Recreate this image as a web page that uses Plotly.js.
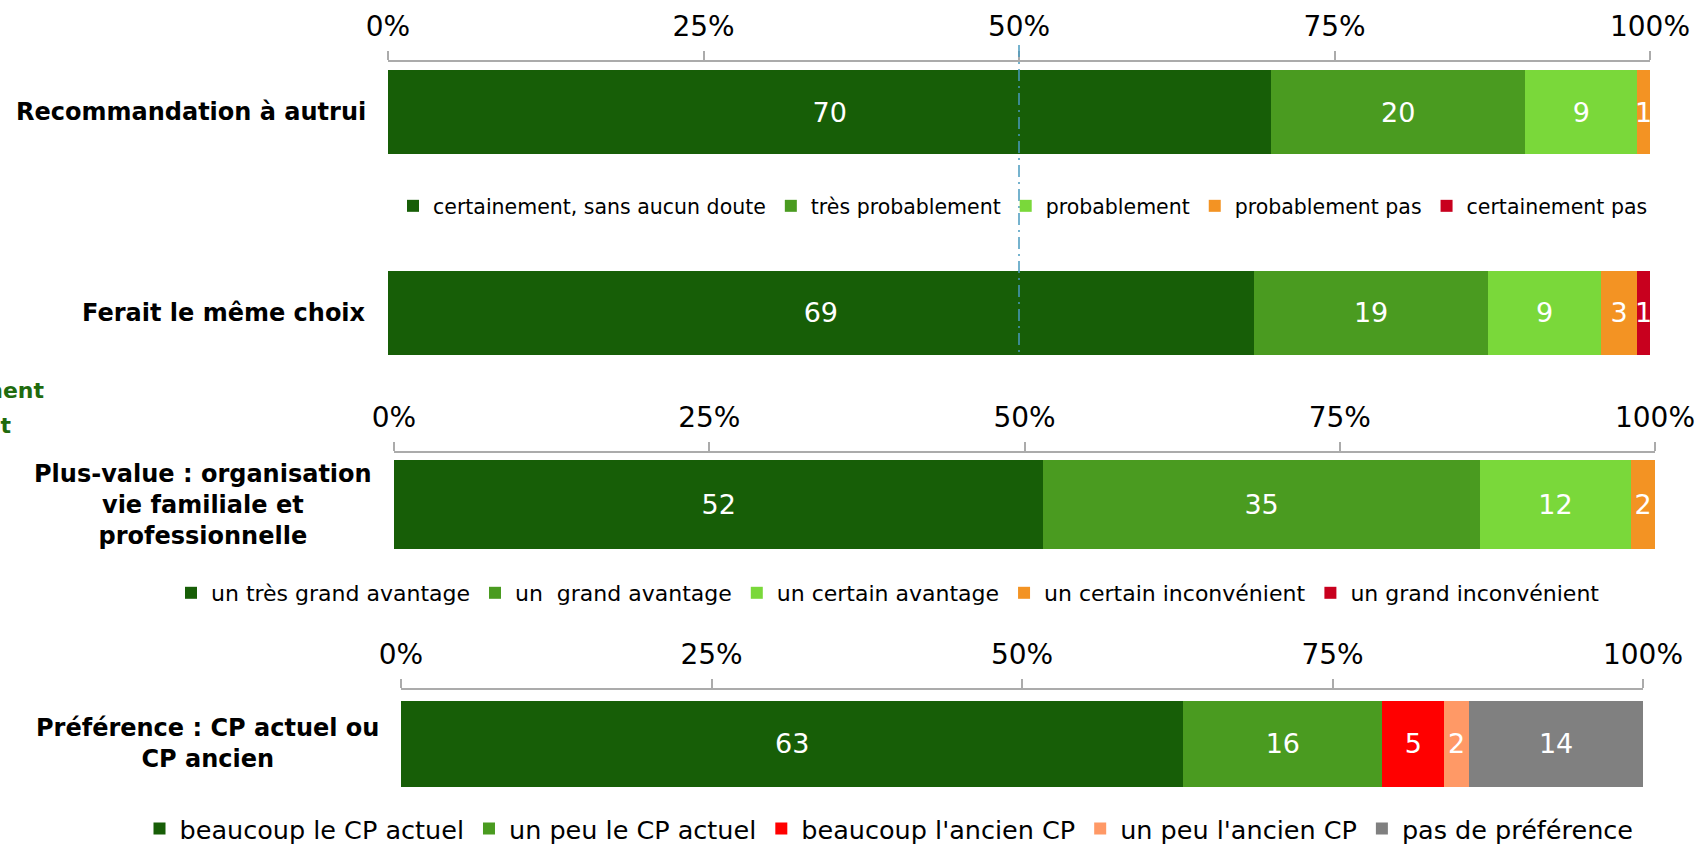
<!DOCTYPE html>
<html>
<head>
<meta charset="utf-8">
<script src="https://cdn.plot.ly/plotly-3.0.1.min.js"></script>
<style>
  html, body { margin: 0; padding: 0; background: #ffffff; }
  #chart { width: 1698px; height: 846px; }
</style>
</head>
<body>
<div id="chart"></div>
<script>
// ---------- DATA ----------
// Chart 1 (index 0 = bottom bar, index 1 = top bar)
const cat1 = ['Ferait le même choix', 'Recommandation à autrui'];
const names1 = ['certainement, sans aucun doute', 'très probablement', 'probablement', 'probablement pas', 'certainement pas'];
const certainementSansDoute = [68.6, 70.0];
const tresProbablement = [18.6, 20.1];
const probablement = [8.9, 8.9];
const probablementPas = [2.9, 1.0];
const certainementPas = [1.0, 0];

// Chart 2
const cat2 = ['Plus-value : organisation<br>vie familiale et<br>professionnelle'];
const names2 = ['un très grand avantage', 'un\u00a0 grand avantage', 'un certain avantage', 'un certain inconvénient', 'un grand inconvénient'];
const tresGrandAvantage = [51.5];
const grandAvantage = [34.6];
const certainAvantage = [12.0];
const certainInconvenient = [1.9];
const grandInconvenient = [0];

// Chart 3
const cat3 = ['Préférence : CP actuel ou<br>CP ancien'];
const names3 = ['beaucoup le CP actuel', 'un peu le CP actuel', "beaucoup l'ancien CP", "un peu l'ancien CP", 'pas de préférence'];
const beaucoupActuel = [63];
const unPeuActuel = [16];
const beaucoupAncien = [5];
const unPeuAncien = [2];
const pasDePreference = [14];

const tickVals = [0, 25, 50, 75, 100];
const tickText = ['0%', '25%', '50%', '75%', '100%'];
const refLine = 50;

// ---------- STYLE ----------
const FONT = 'DejaVu Sans, Verdana, sans-serif';
const colors1 = ['#175E07', '#4A9B20', '#7AD83A', '#F39323', '#C8001E'];
const colors2 = ['#175E07', '#4A9B20', '#7AD83A', '#F39323', '#C8001E'];
const colors3 = ['#175E07', '#4A9B20', '#FF0000', '#FF9966', '#808080'];

const W = 1698, H = 846;
const px = v => v / W;
const py = v => 1 - v / H;

function labels(vals) { return vals.map(v => v > 0 ? String(Math.round(v)) : ''); }

function mkTrace(name, cats, vals, color, xa, ya, legend, width) {
  return {
    type: 'bar', orientation: 'h', name: name,
    y: cats, x: vals,
    xaxis: xa, yaxis: ya, legend: legend,
    width: width,
    marker: { color: color, line: { width: 0 } },
    text: labels(vals),
    textposition: 'inside', insidetextanchor: 'middle',
    constraintext: 'none', textangle: 0,
    textfont: { family: FONT, size: 27, color: '#ffffff' },
    cliponaxis: false,
    hoverinfo: 'x+name'
  };
}

const series1 = [certainementSansDoute, tresProbablement, probablement, probablementPas, certainementPas];
const series2 = [tresGrandAvantage, grandAvantage, certainAvantage, certainInconvenient, grandInconvenient];
const series3 = [beaucoupActuel, unPeuActuel, beaucoupAncien, unPeuAncien, pasDePreference];

const traces = [];
series1.forEach((s, i) => traces.push(mkTrace(names1[i], cat1, s, colors1[i], 'x', 'y', 'legend', 0.418)));
series2.forEach((s, i) => traces.push(mkTrace(names2[i], cat2, s, colors2[i], 'x2', 'y2', 'legend2', 0.8)));
series3.forEach((s, i) => traces.push(mkTrace(names3[i], cat3, s, colors3[i], 'x3', 'y3', 'legend3', 0.8)));

function xAxis(d0, d1, anchor) {
  return {
    domain: [px(d0), px(d1)], anchor: anchor, side: 'top',
    range: [0, 100], tickmode: 'array', tickvals: tickVals, ticktext: tickText,
    showline: true, linecolor: '#ABABAB', linewidth: 2,
    ticks: 'outside', ticklen: 9, tickwidth: 2, tickcolor: '#ABABAB',
    ticklabelstandoff: 4,
    tickfont: { family: FONT, size: 28, color: '#000000' },
    showgrid: false, zeroline: false, fixedrange: true
  };
}
function yAxis(topPx, botPx, r0, r1, cats, anchor) {
  return {
    domain: [py(botPx), py(topPx)], anchor: anchor,
    type: 'category', categoryorder: 'array', categoryarray: cats,
    range: [r0, r1],
    showline: false, showticklabels: false, ticks: '',
    showgrid: false, zeroline: false, fixedrange: true
  };
}

function legendCfg(xc, yc, size) {
  return {
    orientation: 'h', x: xc, xanchor: 'center', y: yc, yanchor: 'middle',
    font: { family: FONT, size: size, color: '#000000' },
    bgcolor: 'rgba(0,0,0,0)', traceorder: 'normal', itemwidth: 30,
    itemclick: false, itemdoubleclick: false
  };
}

function catLabel(text, rightPx, yref, yIdx) {
  return {
    text: text, xref: 'paper', x: px(rightPx), xanchor: 'right',
    yref: yref, y: yIdx, yanchor: 'middle', showarrow: false, align: 'center',
    font: { family: FONT, size: 24, color: '#000000', weight: 'bold' }
  };
}

const layout = {
  width: W, height: H,
  margin: { l: 0, r: 0, t: 0, b: 0, pad: 0, autoexpand: false },
  paper_bgcolor: '#ffffff', plot_bgcolor: 'rgba(0,0,0,0)',
  font: { family: FONT, color: '#000000' },
  barmode: 'stack',
  showlegend: true,
  xaxis: xAxis(388, 1650, 'y'),
  yaxis: yAxis(62, 370, -0.2837, 1.249, cat1, 'x'),
  xaxis2: xAxis(394, 1655, 'y2'),
  yaxis2: yAxis(453, 560, -0.4991, 0.4649, cat2, 'x2'),
  xaxis3: xAxis(401, 1643, 'y3'),
  yaxis3: yAxis(690, 800, -0.5166, 0.498, cat3, 'x3'),
  legend: legendCfg(px(1023), py(206), 20.5),
  legend2: legendCfg(px(888), py(593), 22),
  legend3: legendCfg(px(889), py(829), 25.5),
  shapes: [{
    type: 'line', xref: 'x', yref: 'paper',
    x0: refLine, x1: refLine, y0: py(45), y1: py(352),
    line: { color: '#4A9BBF', width: 1.5, dash: '12px,5px,2px,5px' }
  }],
  annotations: [
    catLabel(cat1[1], 368, 'y', 1),
    catLabel(cat1[0], 368, 'y', 0),
    catLabel(cat2[0], 374, 'y2', 0),
    catLabel(cat3[0], 381, 'y3', 0),
    { text: 'ment', xref: 'paper', x: px(47), xanchor: 'right', yref: 'paper', y: py(390), yanchor: 'middle',
      showarrow: false, font: { family: FONT, size: 22, color: '#1F6B0E', weight: 'bold' } },
    { text: 'it', xref: 'paper', x: px(14), xanchor: 'right', yref: 'paper', y: py(425), yanchor: 'middle',
      showarrow: false, font: { family: FONT, size: 22, color: '#1F6B0E', weight: 'bold' } }
  ]
};

Plotly.newPlot('chart', traces, layout, { staticPlot: true, displayModeBar: false });
</script>
</body>
</html>
